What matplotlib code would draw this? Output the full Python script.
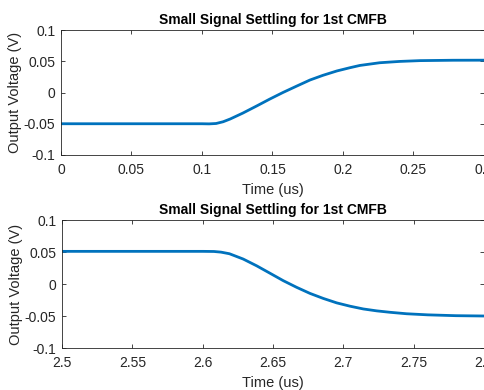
import matplotlib
matplotlib.use("Agg")
import matplotlib.pyplot as plt

# step up (first edge), time in us, voltage in V
t_up = [0, 0.05, 0.10, 0.105, 0.110, 0.115, 0.120, 0.129, 0.139, 0.148,
        0.1574, 0.1674, 0.1766, 0.1858, 0.1957, 0.205, 0.212, 0.226, 0.240,
        0.2546, 0.278, 0.30]
v_up = [-0.05, -0.05, -0.05, -0.0502, -0.0496, -0.0468, -0.0424, -0.0329,
        -0.0213, -0.0106, 0.0, 0.0105, 0.020, 0.0275, 0.0345, 0.0397, 0.0433,
        0.0476, 0.0497, 0.0510, 0.0516, 0.0517]

# step down (second edge)
t_dn = [2.5, 2.55, 2.60, 2.608, 2.613, 2.619, 2.6288, 2.6384, 2.6478, 2.6573,
        2.6668, 2.6763, 2.6858, 2.6953, 2.7048, 2.7142, 2.7238, 2.7332, 2.745,
        2.760, 2.78, 2.80]
v_dn = [0.051, 0.051, 0.051, 0.0508, 0.0498, 0.0473, 0.039, 0.0284, 0.0169,
        0.0052, -0.0052, -0.0147, -0.0226, -0.0295, -0.0347, -0.039, -0.042,
        -0.0442, -0.0465, -0.0482, -0.0495, -0.0500]

xticks_up = [0, 0.05, 0.1, 0.15, 0.2, 0.25, 0.3]
xlabels_up = ['0', '0.05', '0.1', '0.15', '0.2', '0.25', '0.3']
xticks_dn = [2.5, 2.55, 2.6, 2.65, 2.7, 2.75, 2.8]
xlabels_dn = ['2.5', '2.55', '2.6', '2.65', '2.7', '2.75', '2.8']
yticks = [-0.1, -0.05, 0, 0.05, 0.1]
ylabels = ['-0.1', '-0.05', '0', '0.05', '0.1']

plt.rcParams['font.family'] = ['Liberation Sans', 'DejaVu Sans']
dark = '#262626'

fig = plt.figure(figsize=(4.85, 3.9), dpi=100)
ax1 = fig.add_axes([61/485, 1 - 155/390, 423/485, 125/390])
ax2 = fig.add_axes([62/485, 1 - 348/390, 422/485, 128/390])

for ax, t, v, xt, xl in [(ax1, t_up, v_up, xticks_up, xlabels_up),
                          (ax2, t_dn, v_dn, xticks_dn, xlabels_dn)]:
    ax.plot(t, v, color='#0072BD', linewidth=2.0, solid_joinstyle='round')
    ax.set_xlim(xt[0], xt[-1])
    ax.set_ylim(-0.1, 0.1)
    ax.set_xticks(xt)
    ax.set_xticklabels(xl)
    ax.set_yticks(yticks)
    ax.set_yticklabels(ylabels)
    ax.tick_params(direction='in', top=True, right=True, length=3, width=0.6,
                   colors=dark, labelsize=10, labelcolor=dark)
    ax.tick_params(axis='x', pad=6)
    ax.tick_params(axis='y', pad=4)
    for s in ax.spines.values():
        s.set_color(dark)
        s.set_linewidth(0.6)
    ax.set_xlabel('Time (us)', fontsize=10.5, color=dark, labelpad=4)
    ax.set_ylabel('Output Voltage (V)', fontsize=10.5, color=dark, labelpad=1)
    ax.set_title('Small Signal Settling for 1st CMFB', fontsize=10,
                 fontweight='bold', color='black', pad=4)

fig.savefig('out.png', dpi=100)
